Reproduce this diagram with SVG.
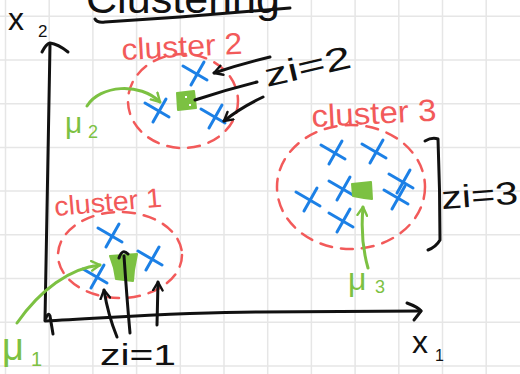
<svg xmlns="http://www.w3.org/2000/svg" width="520" height="374" viewBox="0 0 520 374">
<style>
.grid{stroke:#e6e6e6;stroke-width:1.5;fill:none}
.ink{stroke:#111;stroke-width:3;fill:none;stroke-linecap:round;stroke-linejoin:round}
.grn{stroke:#7cc142;stroke-width:3;fill:none;stroke-linecap:round;stroke-linejoin:round}
.dash{stroke:#f25a5a;stroke-width:2.5;fill:none;stroke-dasharray:12 9;stroke-linecap:round}
.pt{stroke:#1c80e6;stroke-width:3;fill:none;stroke-linecap:round}
.cen{fill:#7cc142;stroke:#7cc142;stroke-width:2;stroke-linejoin:round}
.t{font-family:"Liberation Sans",Arial,sans-serif}
.red{fill:#f25a5a}
.blk{fill:#111}
.g{fill:#7cc142}
</style>
<defs>
<path id="xm" d="M-12,-7 L12,7 M9,-11 L-4,12" class="pt"/>
<marker id="ahK" viewBox="0 0 10 10" refX="8" refY="5" markerWidth="12" markerHeight="12" markerUnits="userSpaceOnUse" orient="auto">
<path d="M1,1 L8,5 L1,9" fill="none" stroke="#111" stroke-width="2" stroke-linecap="round" stroke-linejoin="round"/>
</marker>
<marker id="ahG" viewBox="0 0 10 10" refX="8" refY="5" markerWidth="12" markerHeight="12" markerUnits="userSpaceOnUse" orient="auto">
<path d="M1,1 L8,5 L1,9" fill="none" stroke="#7cc142" stroke-width="2" stroke-linecap="round" stroke-linejoin="round"/>
</marker>
</defs>
<rect width="520" height="374" fill="#fff"/>
<path class="grid" d="M5.5,0V374M49.2,0V374M92.9,0V374M136.6,0V374M180.3,0V374M224,0V374M267.7,0V374M311.4,0V374M355.1,0V374M398.8,0V374M442.5,0V374M486.2,0V374M0,16.3H520M0,60H520M0,103.7H520M0,147.4H520M0,191.1H520M0,234.8H520M0,278.5H520M0,322.2H520M0,365.9H520"/>

<g id="title">
<text class="t blk" x="86" y="13" font-size="40" textLength="194" lengthAdjust="spacingAndGlyphs">Clustering</text>
<path class="ink" d="M95,19 Q97,23 105,22 L180,17 L290,8"/>
</g>

<g id="axes">
<path class="ink" d="M50,45 C49,120 46,220 45,320"/>
<path class="ink" d="M42,52 Q46,44 50,43 Q58,44 68,52"/>
<path class="ink" d="M46,318 Q48,312 50,316 L53,334"/>
<path class="ink" d="M45,321 C110,318 180,312 260,312 L421,311"/>
<path class="ink" d="M407,303 Q418,307 421,311 Q418,315 414,320"/>
<text class="t blk" x="8" y="30" font-size="32">x</text>
<text class="t blk" x="38" y="37" font-size="17">2</text>
<text class="t blk" x="412" y="353" font-size="32">x</text>
<text class="t blk" x="435" y="361" font-size="16">1</text>
</g>

<g id="cluster2">
<ellipse class="dash" cx="183" cy="101" rx="55" ry="47"/>
<use href="#xm" x="195" y="73"/>
<use href="#xm" x="157" y="110"/>
<use href="#xm" x="213" y="116"/>
<path class="cen" d="M177,93 L194,91 L196,108 L178,110 Z"/>
<rect x="185" y="96" width="2" height="2" fill="#fff"/>
<rect x="189" y="104" width="2" height="2" fill="#fff"/>
<text class="t red" x="122" y="60" font-size="30" textLength="121" lengthAdjust="spacingAndGlyphs" transform="rotate(-3 122 60)">cluster 2</text>
</g>

<g id="cluster3">
<ellipse class="dash" cx="351" cy="187" rx="74" ry="62"/>
<use href="#xm" x="333" y="152"/>
<use href="#xm" x="374" y="151"/>
<use href="#xm" x="341" y="188"/>
<use href="#xm" x="401" y="181"/>
<use href="#xm" x="308" y="199"/>
<use href="#xm" x="396" y="197"/>
<use href="#xm" x="341" y="220"/>
<path class="cen" d="M352,184 L371,182 L372,199 L364,198 L353,196 Z"/>
<text class="t red" x="312" y="127" font-size="31" textLength="125" lengthAdjust="spacingAndGlyphs" transform="rotate(-3 312 127)">cluster 3</text>
</g>

<g id="cluster1">
<ellipse class="dash" cx="120" cy="255" rx="62" ry="43"/>
<use href="#xm" x="110" y="235"/>
<use href="#xm" x="150" y="258"/>
<use href="#xm" x="95" y="276"/>
<path class="cen" d="M110,256 L137,254 L134,270 L133,281 L116,279 L114,268 Z"/>
<text class="t red" x="55" y="216" font-size="27" textLength="108" lengthAdjust="spacingAndGlyphs" transform="rotate(-5 55 216)">cluster 1</text>
</g>

<g id="labels">
<text class="t blk" x="267" y="87" font-size="32" textLength="88" lengthAdjust="spacingAndGlyphs" transform="rotate(-13 267 87)">zi=2</text>
<text class="t blk" x="442" y="209" font-size="32" textLength="77" lengthAdjust="spacingAndGlyphs" transform="rotate(-4 442 209)">zi=3</text>
<text class="t blk" x="100" y="365" font-size="30" textLength="76" lengthAdjust="spacingAndGlyphs">zi=1</text>
<text class="t g" x="65" y="133" font-size="30">μ</text>
<text class="t g" x="88" y="138" font-size="18">2</text>
<text class="t g" x="2" y="360" font-size="38">μ</text>
<text class="t g" x="31" y="366" font-size="20">1</text>
<text class="t g" x="348" y="290" font-size="32">μ</text>
<text class="t g" x="375" y="293" font-size="18">3</text>
</g>

<g id="connectors">
<path class="ink" d="M270,57 Q240,64 214,73" marker-end="url(#ahK)"/>
<path class="ink" d="M257,82 Q225,90 195,100"/>
<path class="ink" d="M263,97 Q240,108 224,121" marker-end="url(#ahK)"/>
<path class="ink" d="M425,141 Q432,137 438,139 Q440,190 440,240 Q436,247 428,250"/>
<path class="ink" d="M117,337 Q108,315 104,290" marker-end="url(#ahK)"/>
<path class="ink" d="M130,333 Q127,300 124,256"/>
<path class="ink" d="M119,258 Q122,248 128,254"/>
<path class="ink" d="M157,325 L158,282" marker-end="url(#ahK)"/>
<path class="grn" d="M87,106 C100,85 140,82 160,102" marker-end="url(#ahG)"/>
<path class="grn" d="M17,323 C40,290 70,268 100,265" marker-end="url(#ahG)"/>
<path class="grn" d="M368,268 Q360,240 363,207" marker-end="url(#ahG)"/>
</g>
</svg>
